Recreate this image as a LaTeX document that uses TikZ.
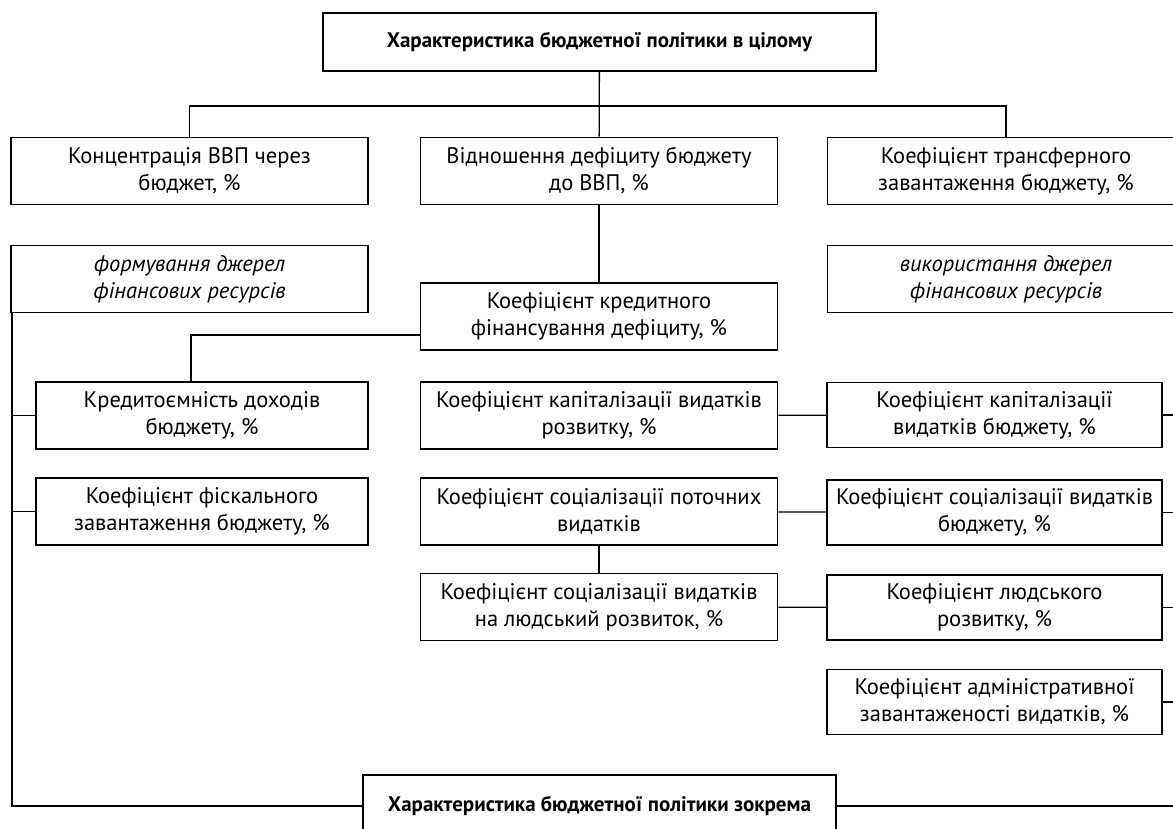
\documentclass[tikz,border=0pt]{standalone}
\usepackage{fontspec}
\setmainfont{PT Sans}

\tikzset{
  box/.style={draw, line width=1.8pt, inner sep=0pt, align=center, minimum height=67pt, font=\fontsize{22.5}{27}\selectfont},
  widebox/.style={box, minimum width=357pt},
  rightbox/.style={box, minimum width=335pt, minimum height=65pt},
  leftbox/.style={box, minimum width=332pt},
  slanted/.style={font=\fontsize{22.5}{27}\selectfont\itshape},
  headbox/.style={box, minimum width=553pt, minimum height=58pt, font=\fontsize{21}{25}\selectfont\bfseries},
  link/.style={line width=1.3pt},
}

\begin{document}
\begin{tikzpicture}[x=1pt,y=-1pt]
\useasboundingbox (0,0) rectangle (1173,828);
\clip (0,0) rectangle (1173,828);
% rangs du haut
\node[headbox] (whole) at (599.5,42) {Характеристика бюджетної політики в цілому};
\node[widebox] (conc) at (189.5,171) {Концентрація ВВП через\\бюджет, \%};
\node[widebox] (defic) at (599,171) {Відношення дефіциту бюджету\\до ВВП, \%};
\node[widebox] (transf) at (1006,171) {Коефіцієнт трансферного\\завантаження бюджету, \%};
\node[widebox, slanted] (form) at (189.5,279) {формування джерел\\фінансових ресурсів};
\node[widebox, slanted] (use) at (1006,279) {використання джерел\\фінансових ресурсів};
\node[widebox] (credit) at (599,316.5) {Коефіцієнт кредитного\\фінансування дефіциту, \%};
% colonne gauche
\node[leftbox] (kred) at (202,415.5) {Кредитоємність доходів\\бюджету, \%};
\node[leftbox] (fisc) at (202,511.5) {Коефіцієнт фіскального\\завантаження бюджету, \%};
% colonne du milieu
\node[widebox] (capdev) at (599,415.5) {Коефіцієнт капіталізації видатків\\розвитку, \%};
\node[widebox] (soccur) at (599,511.5) {Коефіцієнт соціалізації поточних\\видатків};
\node[widebox] (sochum) at (599,607) {Коефіцієнт соціалізації видатків\\на людський розвиток, \%};
% colonne droite
\node[rightbox] (capbud) at (994.5,415) {Коефіцієнт капіталізації\\видатків бюджету, \%};
\node[rightbox] (socbud) at (994.5,512.5) {Коефіцієнт соціалізації видатків\\бюджету, \%};
\node[rightbox] (human) at (994.5,607.5) {Коефіцієнт людського\\розвитку, \%};
\node[rightbox] (admin) at (994.5,702) {Коефіцієнт адміністративної\\завантаженості видатків, \%};
\node[headbox, minimum width=473pt, minimum height=62pt] (part) at (599.5,806) {Характеристика бюджетної політики зокрема};

\begin{scope}[link]
    \coordinate (bus) at (599,106);
    \draw (whole) -- (defic);
    \draw (conc.north) |- (bus) -| (transf.north);
    \draw (defic) -- (credit);
    \draw ([yshift=-18.5pt]credit.west) -| ([xshift=-11pt]kred.north);
    \draw (capdev) -- (capbud);
    \draw (soccur) -- (socbud);
    \draw (soccur) -- (sochum);
    \draw (sochum) -- (human);
    % lignes de rappel
    \coordinate (lbus) at ([xshift=2pt]form.south west);
    \coordinate (rbus) at ([xshift=-2pt]use.south east);
    \draw (lbus) |- (part.west);
    \draw (rbus) |- (part.east);
    \draw (kred.west) -- (kred.west -| lbus);
    \draw (fisc.west) -- (fisc.west -| lbus);
    \draw (capbud.east) -- (capbud.east -| rbus);
    \draw (socbud.east) -- (socbud.east -| rbus);
    \draw (human.east) -- (human.east -| rbus);
    \draw (admin.east) -- (admin.east -| rbus);
\end{scope}
\end{tikzpicture}
\end{document}
